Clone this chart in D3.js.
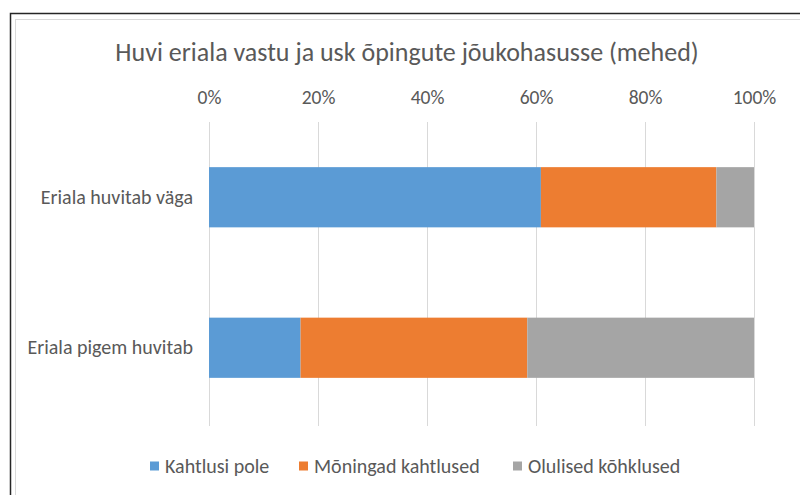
<!DOCTYPE html>
<html>
<head>
<meta charset="utf-8">
<script src="https://cdn.jsdelivr.net/npm/d3@7"></script>
<style>
  body { margin: 0; background: #fff; }
  text { font-family: Carlito, "Liberation Sans", Arial, sans-serif; fill: #595959; }
</style>
</head>
<body>
<script>

var width = 800, height = 495;

// data
var categories = ["Eriala huvitab väga", "Eriala pigem huvitab"];
var seriesNames = ["Kahtlusi pole", "Mõningad kahtlused", "Olulised kõhklused"];
var kahtlusiPole = [0.609, 0.168];
var moningadKahtlused = [0.322, 0.416];
var olulisedKohklused = [0.069, 0.416];
var tickValues = [0, 0.2, 0.4, 0.6, 0.8, 1];
var colors = ["#5b9bd5", "#ed7d31", "#a5a5a5"];

var svg = d3.select("body").append("svg")
    .attr("width", width)
    .attr("height", height);

// frame
svg.append("rect")
    .attr("x", 10.5).attr("y", 13.5)
    .attr("width", 820).attr("height", 520)
    .attr("fill", "none").attr("stroke", "#262626").attr("stroke-width", 1.5);
svg.append("rect")
    .attr("x", 15.5).attr("y", 19.5)
    .attr("width", 810).attr("height", 510)
    .attr("fill", "none").attr("stroke", "#d9d9d9").attr("stroke-width", 1);

var rows = categories.map(function (c, i) {
    return { cat: c, a: kahtlusiPole[i], b: moningadKahtlused[i], c: olulisedKohklused[i] };
});
var stack = d3.stack().keys(["a", "b", "c"]);
var layers = stack(rows);

var x = d3.scaleLinear().domain([0, 1]).range([209, 754]);
var y = d3.scaleBand().domain(categories).range([122, 423])
    .paddingInner(0.6).paddingOuter(0.3);

// gridlines
svg.append("g").selectAll("line")
    .data(tickValues)
    .enter().append("line")
    .attr("x1", function (d) { return Math.round(x(d)) + 0.5; })
    .attr("x2", function (d) { return Math.round(x(d)) + 0.5; })
    .attr("y1", 122).attr("y2", 426)
    .attr("stroke", "#d9d9d9");

// top axis labels
var xAxis = svg.append("g")
    .attr("transform", "translate(0,104)")
    .call(d3.axisTop(x).tickValues(tickValues).tickFormat(d3.format(".0%")).tickSize(0).tickPadding(0));
xAxis.select(".domain").remove();
xAxis.selectAll("text").style("font-size", "19.5px").attr("dy", 0).attr("fill", "#595959");

// bars
svg.append("g").selectAll("g")
    .data(layers)
    .enter().append("g")
    .attr("fill", function (d, i) { return colors[i]; })
    .selectAll("rect")
    .data(function (d) { return d; })
    .enter().append("rect")
    .attr("x", function (d) { return x(d[0]); })
    .attr("width", function (d) { return x(d[1]) - x(d[0]); })
    .attr("y", function (d) { return y(d.data.cat); })
    .attr("height", y.bandwidth());

// category labels
var yAxis = svg.append("g")
    .attr("transform", "translate(193,0)")
    .call(d3.axisLeft(y).tickSize(0).tickPadding(0));
yAxis.select(".domain").remove();
yAxis.selectAll("text").style("font-size", "20px").attr("fill", "#595959");

// title
svg.append("text")
    .attr("x", 407).attr("y", 61)
    .attr("text-anchor", "middle")
    .style("font-size", "26px")
    .text("Huvi eriala vastu ja usk õpingute jõukohasusse (mehed)");

// legend
var legendX = [150, 299, 513];
var legend = svg.append("g").selectAll("g")
    .data(seriesNames)
    .enter().append("g")
    .attr("transform", function (d, i) { return "translate(" + legendX[i] + ",466)"; });
legend.append("rect")
    .attr("x", 0).attr("y", -4.5)
    .attr("width", 9).attr("height", 9)
    .attr("fill", function (d, i) { return colors[i]; });
legend.append("text")
    .attr("x", 15).attr("y", 6.5)
    .style("font-size", "20px")
    .text(function (d) { return d; });

</script>
</body>
</html>
